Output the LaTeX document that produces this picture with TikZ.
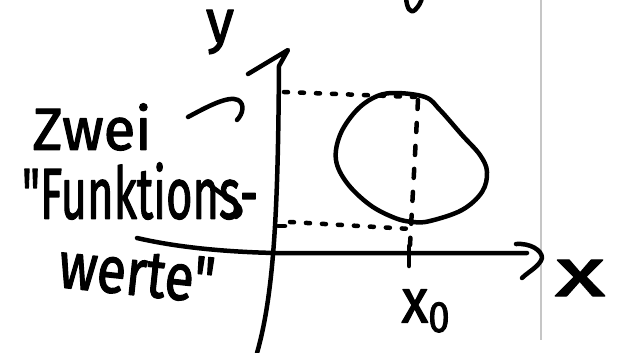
\documentclass[tikz,border=0pt]{standalone}
\usepackage{fontspec}
\setmainfont{Fira Sans}
\newfontfamily\handfont[FakeBold=2]{Fira Sans}
\begin{document}
\begin{tikzpicture}[x=1pt,y=-1pt, line cap=round, line join=round,
  pen/.style={line width=4.5pt, black},
  dotline/.style={line width=4.5pt, black, dash pattern=on 4pt off 12pt},
  dashline/.style={line width=4.5pt, black, dash pattern=on 9pt off 14pt},
  hand/.style={inner sep=0pt, outer sep=0pt, font=\handfont}]
\useasboundingbox (0,0) rectangle (621,353);
\fill[white] (0,0) rectangle (621,353);
% page edge line
\draw[line width=1.5pt, gray!45, line cap=butt] (541,0) -- (541,340);
% stroke remnant at top
\draw[pen] (406,-2) .. controls (407,8) and (410,14) .. (415,10) .. controls (419,6) and (421,2) .. (422,-2);
% labels
\node[hand] (ylab) at (220,32) {\resizebox*{28pt}{44pt}{y}};
\node[hand] (xlab) at (580,278) {\resizebox*{50pt}{36pt}{x}};
\node[hand] (x0) at (427,311) {\resizebox*{51pt}{43pt}{x\textsubscript{0}}};
\node[hand] (zwei) at (92,127) {\resizebox*{119pt}{47pt}{Zwei}};
\node[hand] (funk) at (140,191) {\resizebox*{236pt}{57pt}{"Funktions-}};
\node[hand, rotate=-6] (werte) at (137,273) {\resizebox*{156pt}{46pt}{werte"}};
% axes
\coordinate (ytip) at (288,50);
\coordinate (ybot) at (257,353);
\coordinate (xstart) at (137,238);
\coordinate (xend) at (527,253);
\draw[pen] (248,74) -- (ytip) -- (279,66) .. controls (278,200) and (275,290) .. (ybot);
\draw[pen] (xstart) .. controls (180,248) and (230,252) .. (275,253) -- (xend);
\draw[pen] (516,244) .. controls (530,243) and (542,250) .. (542,258) .. controls (540,266) and (528,272) .. (522,278);
% tick at x0
\coordinate (tickT) at (409,246);
\coordinate (tickB) at (409,266);
\draw[pen] (tickT) -- (tickB);
\draw[pen] (278,226) -- (285,226);
% closed curve
\draw[pen] plot[smooth cycle, tension=0.6] coordinates {(393,93) (425,97) (440,110) (462,135) (480,155) (487,172) (482,192) (462,210) (430,221) (413,222) (395,218) (370,205) (347,183) (336,160) (340,135) (355,112) (373,98)};
% projections
\coordinate (topL) at (284,92);
\coordinate (topR) at (415,97);
\coordinate (botL) at (290,222);
\coordinate (botR) at (411,229);
\coordinate (vT) at (418,100);
\coordinate (vB) at (410,245);
\draw[dotline] (topL) -- (topR);
\draw[dotline] (botL) -- (botR);
\draw[dashline] (vT) -- (vB);
% arrows from text
\coordinate (a1s) at (188,117);
\coordinate (a1e) at (237,120);
\draw[pen] (a1s) .. controls (205,108) and (228,95) .. (238,100) .. controls (245,104) and (243,114) .. (a1e);
\coordinate (a2s) at (208,184);
\coordinate (a2e) at (236,217);
\draw[pen] (a2s) -- (236,204) .. controls (242,208) and (242,214) .. (a2e);
\end{tikzpicture}
\end{document}
